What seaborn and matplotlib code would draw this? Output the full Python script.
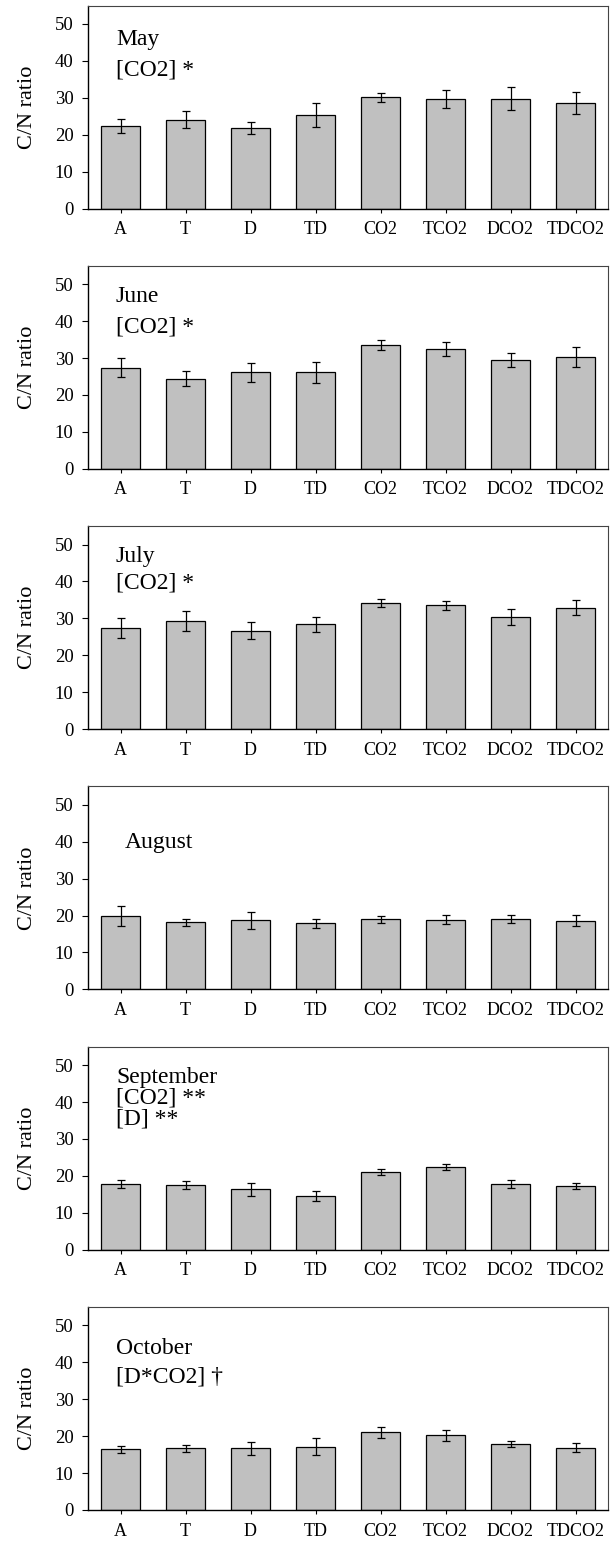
import matplotlib
matplotlib.use("Agg")
import matplotlib.pyplot as plt
import seaborn as sns
import pandas as pd

# treatments on x axis
treatments = ["A", "T", "D", "TD", "CO2", "TCO2", "DCO2", "TDCO2"]

# C/N ratio means and error bars, one pair per month
may_mean = [22.3, 24.1, 21.9, 25.3, 30.1, 29.6, 29.8, 28.6]
may_err = [1.9, 2.2, 1.6, 3.3, 1.2, 2.5, 3.2, 2.9]
jun_mean = [27.4, 24.4, 26.1, 26.1, 33.6, 32.5, 29.6, 30.3]
jun_err = [2.6, 2.0, 2.5, 2.9, 1.4, 1.9, 1.9, 2.6]
jul_mean = [27.3, 29.3, 26.7, 28.4, 34.2, 33.5, 30.3, 32.9]
jul_err = [2.7, 2.6, 2.2, 2.1, 1.0, 1.3, 2.2, 2.0]
aug_mean = [19.9, 18.2, 18.7, 17.9, 19.0, 18.9, 19.0, 18.6]
aug_err = [2.6, 1.0, 2.4, 1.3, 0.9, 1.2, 1.1, 1.5]
sep_mean = [17.8, 17.5, 16.4, 14.5, 21.1, 22.4, 17.8, 17.2]
sep_err = [1.1, 1.1, 1.8, 1.4, 0.8, 0.9, 1.1, 0.8]
oct_mean = [16.4, 16.7, 16.7, 17.1, 21.0, 20.2, 17.8, 16.9]
oct_err = [0.9, 1.0, 1.7, 2.3, 1.5, 1.5, 0.8, 1.3]

# panel annotations: month name plus significant effects
annotations = [
    ["May", "[CO2] *"],
    ["June", "[CO2] *"],
    ["July", "[CO2] *"],
    ["August"],
    ["September", "[CO2] **", "[D] **"],
    ["October", "[D*CO2] \u2020"],
]
means = [may_mean, jun_mean, jul_mean, aug_mean, sep_mean, oct_mean]
errs = [may_err, jun_err, jul_err, aug_err, sep_err, oct_err]

# text placement (pixels: x from figure left, baselines below axes top)
text_x = [116, 116, 116, 125, 116, 116]
text_base = [[39, 70], [36, 67], [36, 62], [62], [36, 57, 78], [47, 76]]

sns.set_style("ticks")
plt.rcParams["font.family"] = ["Liberation Serif", "DejaVu Serif"]
plt.rcParams["text.color"] = "black"
plt.rcParams["axes.labelcolor"] = "black"
plt.rcParams["xtick.color"] = "black"
plt.rcParams["ytick.color"] = "black"

W, H = 611, 1544
fig = plt.figure(figsize=(W / 100, H / 100), dpi=100)

left, width = 88, 520
ax_h = 203
for i, (lines, m, e) in enumerate(zip(annotations, means, errs)):
    top = 5.5 + 260.3 * i
    ax = fig.add_axes([left / W, 1 - (top + ax_h) / H, width / W, ax_h / H])
    df = pd.DataFrame({"treatment": treatments, "cn": m})
    sns.barplot(data=df, x="treatment", y="cn", color="#c0c0c0", saturation=1,
                width=0.6, edgecolor="black", linewidth=0.9, ax=ax)
    ax.errorbar(range(len(treatments)), m, yerr=e, fmt="none", ecolor="black",
                elinewidth=0.9, capsize=3.2, capthick=0.9)
    ax.set_xlim(-0.5, 7.5)
    ax.set_ylim(0, 55)
    ax.set_yticks([0, 10, 20, 30, 40, 50])
    ax.set_xlabel("")
    ax.set_ylabel("C/N ratio", fontsize=16, labelpad=13)
    ax.tick_params(axis="y", labelsize=13.5, length=4, width=0.8, pad=6.5)
    ax.tick_params(axis="x", labelsize=13, length=3, width=0.8, pad=6)
    for s in ["left", "bottom"]:
        ax.spines[s].set_color("black")
        ax.spines[s].set_linewidth(1.0)
    for s in ["top", "right"]:
        ax.spines[s].set_color("#444444")
        ax.spines[s].set_linewidth(0.8)
    for txt, b in zip(lines, text_base[i]):
        ax.text((text_x[i] - left) / width, 1 - b / ax_h, txt,
                transform=ax.transAxes, fontsize=17, va="baseline", ha="left")

fig.savefig("out.png", dpi=100)
